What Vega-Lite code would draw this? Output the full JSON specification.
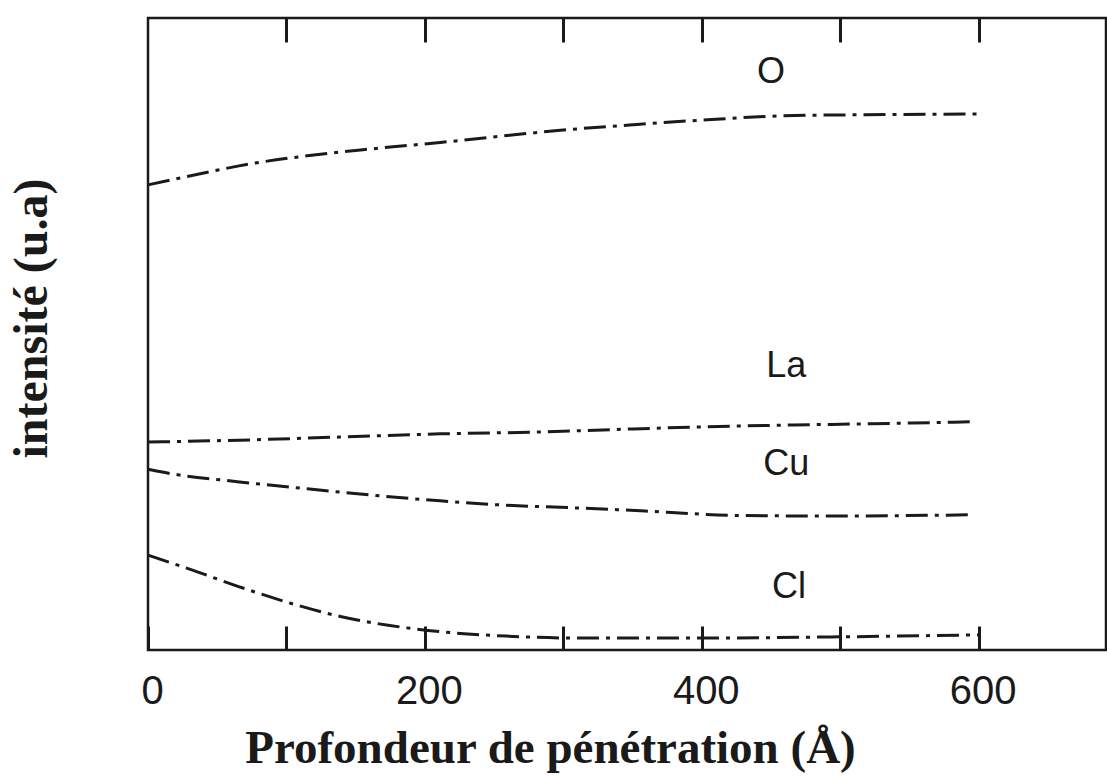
{
  "$schema": "https://vega.github.io/schema/vega-lite/v6.json",
  "width": 958,
  "height": 632,
  "autosize": {"type": "none"},
  "padding": {"left": 148, "top": 18, "right": 1, "bottom": 133},
  "background": "white",
  "config": {
    "view": {"stroke": "#1a1a1a", "strokeWidth": 2.5},
    "axis": {"domain": false, "grid": false}
  },
  "datasets": {
    "curves": [
      {"element": "O", "depth": 0, "intensity": 73.6},
      {"element": "O", "depth": 30, "intensity": 75.0},
      {"element": "O", "depth": 76, "intensity": 77.0},
      {"element": "O", "depth": 115, "intensity": 78.2},
      {"element": "O", "depth": 162, "intensity": 79.3},
      {"element": "O", "depth": 211, "intensity": 80.3},
      {"element": "O", "depth": 259, "intensity": 81.4},
      {"element": "O", "depth": 307, "intensity": 82.4},
      {"element": "O", "depth": 350, "intensity": 83.1},
      {"element": "O", "depth": 404, "intensity": 83.9},
      {"element": "O", "depth": 456, "intensity": 84.5},
      {"element": "O", "depth": 519, "intensity": 84.7},
      {"element": "O", "depth": 599, "intensity": 84.8},
      {"element": "La", "depth": 0, "intensity": 32.9},
      {"element": "La", "depth": 66, "intensity": 33.2},
      {"element": "La", "depth": 139, "intensity": 33.7},
      {"element": "La", "depth": 211, "intensity": 34.2},
      {"element": "La", "depth": 283, "intensity": 34.5},
      {"element": "La", "depth": 339, "intensity": 34.9},
      {"element": "La", "depth": 399, "intensity": 35.3},
      {"element": "La", "depth": 466, "intensity": 35.6},
      {"element": "La", "depth": 523, "intensity": 35.8},
      {"element": "La", "depth": 594, "intensity": 36.1},
      {"element": "Cu", "depth": 0, "intensity": 28.6},
      {"element": "Cu", "depth": 14, "intensity": 28.0},
      {"element": "Cu", "depth": 66, "intensity": 26.6},
      {"element": "Cu", "depth": 115, "intensity": 25.5},
      {"element": "Cu", "depth": 162, "intensity": 24.5},
      {"element": "Cu", "depth": 211, "intensity": 23.6},
      {"element": "Cu", "depth": 259, "intensity": 22.9},
      {"element": "Cu", "depth": 307, "intensity": 22.5},
      {"element": "Cu", "depth": 339, "intensity": 22.2},
      {"element": "Cu", "depth": 375, "intensity": 21.8},
      {"element": "Cu", "depth": 422, "intensity": 21.3},
      {"element": "Cu", "depth": 495, "intensity": 21.2},
      {"element": "Cu", "depth": 597, "intensity": 21.4},
      {"element": "Cl", "depth": 0, "intensity": 15.0},
      {"element": "Cl", "depth": 30, "intensity": 12.8},
      {"element": "Cl", "depth": 66, "intensity": 10.0},
      {"element": "Cl", "depth": 103, "intensity": 7.4},
      {"element": "Cl", "depth": 139, "intensity": 5.3},
      {"element": "Cl", "depth": 187, "intensity": 3.5},
      {"element": "Cl", "depth": 211, "intensity": 2.9},
      {"element": "Cl", "depth": 259, "intensity": 2.2},
      {"element": "Cl", "depth": 307, "intensity": 1.9},
      {"element": "Cl", "depth": 399, "intensity": 1.9},
      {"element": "Cl", "depth": 507, "intensity": 2.1},
      {"element": "Cl", "depth": 601, "intensity": 2.4}
    ],
    "labels": [
      {"element": "O", "depth": 450, "intensity": 91.5},
      {"element": "La", "depth": 461, "intensity": 44.9},
      {"element": "Cu", "depth": 461, "intensity": 29.4},
      {"element": "Cl", "depth": 463, "intensity": 10.0}
    ]
  },
  "resolve": {"axis": {"x": "independent"}},
  "layer": [
    {
      "data": {"name": "curves"},
      "mark": {"type": "line", "strokeDash": [22, 7, 4, 7], "strokeWidth": 3, "color": "#1a1a1a", "interpolate": "monotone", "strokeCap": "butt"},
      "encoding": {
        "x": {
          "field": "depth", "type": "quantitative",
          "scale": {"domain": [0, 692], "nice": false, "zero": false},
          "axis": {
            "orient": "bottom",
            "values": [0, 100, 200, 300, 400, 500, 600],
            "tickSize": -24, "tickWidth": 3, "tickColor": "#1a1a1a",
            "labelExpr": "datum.value % 200 == 0 ? datum.label : ''",
            "labelFont": "Liberation Sans", "labelFontSize": 40, "labelColor": "#1a1a1a",
            "labelPadding": 45, "labelOffset": 4, "labelFlush": false, "labelOverlap": false,
            "title": "Profondeur de pénétration (Å)",
            "titleFont": "Liberation Serif", "titleFontWeight": "bold", "titleFontSize": 47, "titleColor": "#1a1a1a",
            "titleX": 402, "titleY": 112, "titleAlign": "center", "titleBaseline": "alphabetic"
          }
        },
        "y": {
          "field": "intensity", "type": "quantitative",
          "scale": {"domain": [0, 100], "nice": false},
          "axis": {
            "ticks": false, "labels": false,
            "title": "intensité (u.a)",
            "titleFont": "Liberation Serif", "titleFontWeight": "bold", "titleFontSize": 48, "titleColor": "#1a1a1a",
            "titleAngle": 270, "titleX": -102, "titleY": 300, "titleAlign": "center", "titleBaseline": "alphabetic"
          }
        },
        "detail": {"field": "element"}
      }
    },
    {
      "data": {"name": "labels"},
      "mark": {"type": "text", "font": "Liberation Sans", "fontSize": 36, "color": "#1a1a1a", "align": "center", "baseline": "middle"},
      "encoding": {
        "x": {
          "field": "depth", "type": "quantitative",
          "axis": {
            "orient": "top",
            "values": [100, 200, 300, 400, 500, 600],
            "tickSize": -24, "tickWidth": 3, "tickColor": "#1a1a1a",
            "labels": false, "title": null
          }
        },
        "y": {"field": "intensity", "type": "quantitative"},
        "text": {"field": "element"}
      }
    }
  ]
}
